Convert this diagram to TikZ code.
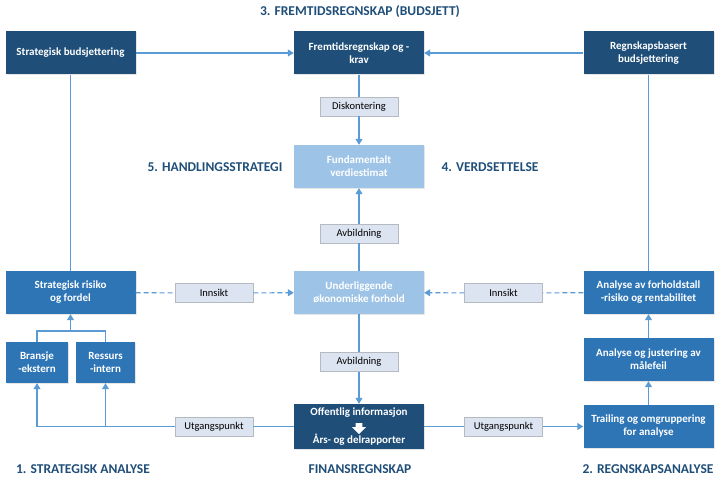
\documentclass[tikz,border=0pt]{standalone}
\usepackage{fontspec}
\setmainfont{Carlito}
\usetikzlibrary{arrows.meta,shapes.arrows,shadows}
\definecolor{navy}{HTML}{1F4E79}
\definecolor{midblue}{HTML}{2E75B6}
\definecolor{paleblue}{HTML}{9DC3E6}
\definecolor{lineblue}{HTML}{5B9BD5}
\definecolor{tagfill}{HTML}{DCE4F1}
\definecolor{tagedge}{HTML}{B4B9C2}

\begin{document}
\begin{tikzpicture}[x=1pt,y=-1pt,
  box/.style={fill=#1, text=white, inner sep=0pt, align=center, minimum width=130pt, minimum height=43pt,
    font=\fontsize{11}{13}\selectfont\bfseries, drop shadow={shadow xshift=1pt, shadow yshift=-1pt, opacity=0.2}},
  tag/.style={fill=tagfill, draw=tagedge, line width=0.5pt, inner sep=0pt, minimum width=78pt, minimum height=19pt,
    font=\fontsize{10.5}{12}\selectfont},
  heading/.style={text=navy, font=\fontsize{13.5}{15}\selectfont\bfseries},
  line/.style={draw=lineblue, line width=1.1pt},
  arr/.style={line, -{Triangle[length=6pt,width=7pt]}},
  dline/.style={line, dash pattern=on 5pt off 3pt},
  darr/.style={dline, -{Triangle[length=6pt,width=7pt]}}]
\useasboundingbox (0,0) rectangle (723,484);

% headings
\node[heading] (h3) at (360,12) {3. FREMTIDSREGNSKAP (BUDSJETT)};
\node[heading] (h5) at (215,167) {5. HANDLINGSSTRATEGI};
\node[heading] (h4) at (490,167) {4. VERDSETTELSE};
\node[heading] (h1) at (83,469) {1. STRATEGISK ANALYSE};
\node[heading] (hf) at (360,469) {FINANSREGNSKAP};
\node[heading] (h2) at (648,469) {2. REGNSKAPSANALYSE};

% boxes
\node[box=navy] (strbud) at (70.5,53) {Strategisk budsjettering};
\node[box=navy] (fremtid) at (359,53) {Fremtidsregnskap og -\\krav};
\node[box=navy] (regbud) at (648.5,53) {Regnskapsbasert\\budsjettering};
\node[box=paleblue] (fund) at (359,166.5) {Fundamentalt\\verdiestimat};
\node[box=paleblue] (under) at (359,292.5) {Underliggende\\økonomiske forhold};
\node[box=navy, minimum height=45pt] (offinfo) at (359,426.5) {Offentlig informasjon\\[15pt]Års- og delrapporter};
\node[single arrow, fill=white, rotate=-90, inner sep=2.5pt, minimum height=11pt, minimum width=14pt,
  single arrow head extend=3pt] (offarrow) at (359,427) {};
\node[box=midblue] (strrisk) at (70.5,292.5) {Strategisk risiko\\og fordel};
\node[box=midblue, minimum width=62pt, minimum height=41pt] (bransje) at (37,362.5) {Bransje\\-ekstern};
\node[box=midblue, minimum width=59pt, minimum height=41pt] (ressurs) at (105.5,362.5) {Ressurs\\-intern};
\node[box=midblue] (forhold) at (648.5,292.5) {Analyse av forholdstall\\-risiko og rentabilitet};
\node[box=midblue] (justering) at (648.5,359.5) {Analyse og justering av\\målefeil};
\node[box=midblue] (trailing) at (648.5,426.5) {Trailing og omgruppering\\for analyse};

% tags on the connectors
\node[tag] (disk) at (359,106.5) {Diskontering};
\node[tag] (avb1) at (359,233.5) {Avbildning};
\node[tag] (avb2) at (359,362) {Avbildning};
\node[tag] (innsikt1) at (214,293) {Innsikt};
\node[tag] (innsikt2) at (503.5,293) {Innsikt};
\node[tag] (utg1) at (214,426.5) {Utgangspunkt};
\node[tag] (utg2) at (503.5,426.5) {Utgangspunkt};

\coordinate (join) at (70.5,331);
\coordinate (resjoin) at (ressurs |- utg1);

\draw[arr] (strbud) -- (fremtid);
\draw[arr] (regbud) -- (fremtid);
\draw[line] (strbud) -- (strrisk);
\draw[line] (regbud) -- (forhold);
\draw[line] (fremtid) -- (disk); \draw[arr] (disk) -- (fund);
\draw[line] (under) -- (avb1); \draw[arr] (avb1) -- (fund);
\draw[line] (under) -- (avb2); \draw[arr] (avb2) -- (offinfo);
\draw[dline] (strrisk) -- (innsikt1); \draw[darr] (innsikt1) -- (under);
\draw[dline] (forhold) -- (innsikt2); \draw[darr] (innsikt2) -- (under);
\draw[line] (bransje.north) |- (join) -| (ressurs.north);
\draw[arr] (join) -- (strrisk);
\draw[line] (offinfo) -- (utg1);
\draw[arr] (utg1) -| (bransje);
\draw[arr] (resjoin) -- (ressurs);
\draw[line] (offinfo) -- (utg2); \draw[arr] (utg2) -- (trailing);
\draw[arr] (trailing) -- (justering);
\draw[arr] (justering) -- (forhold);
\end{tikzpicture}
\end{document}
